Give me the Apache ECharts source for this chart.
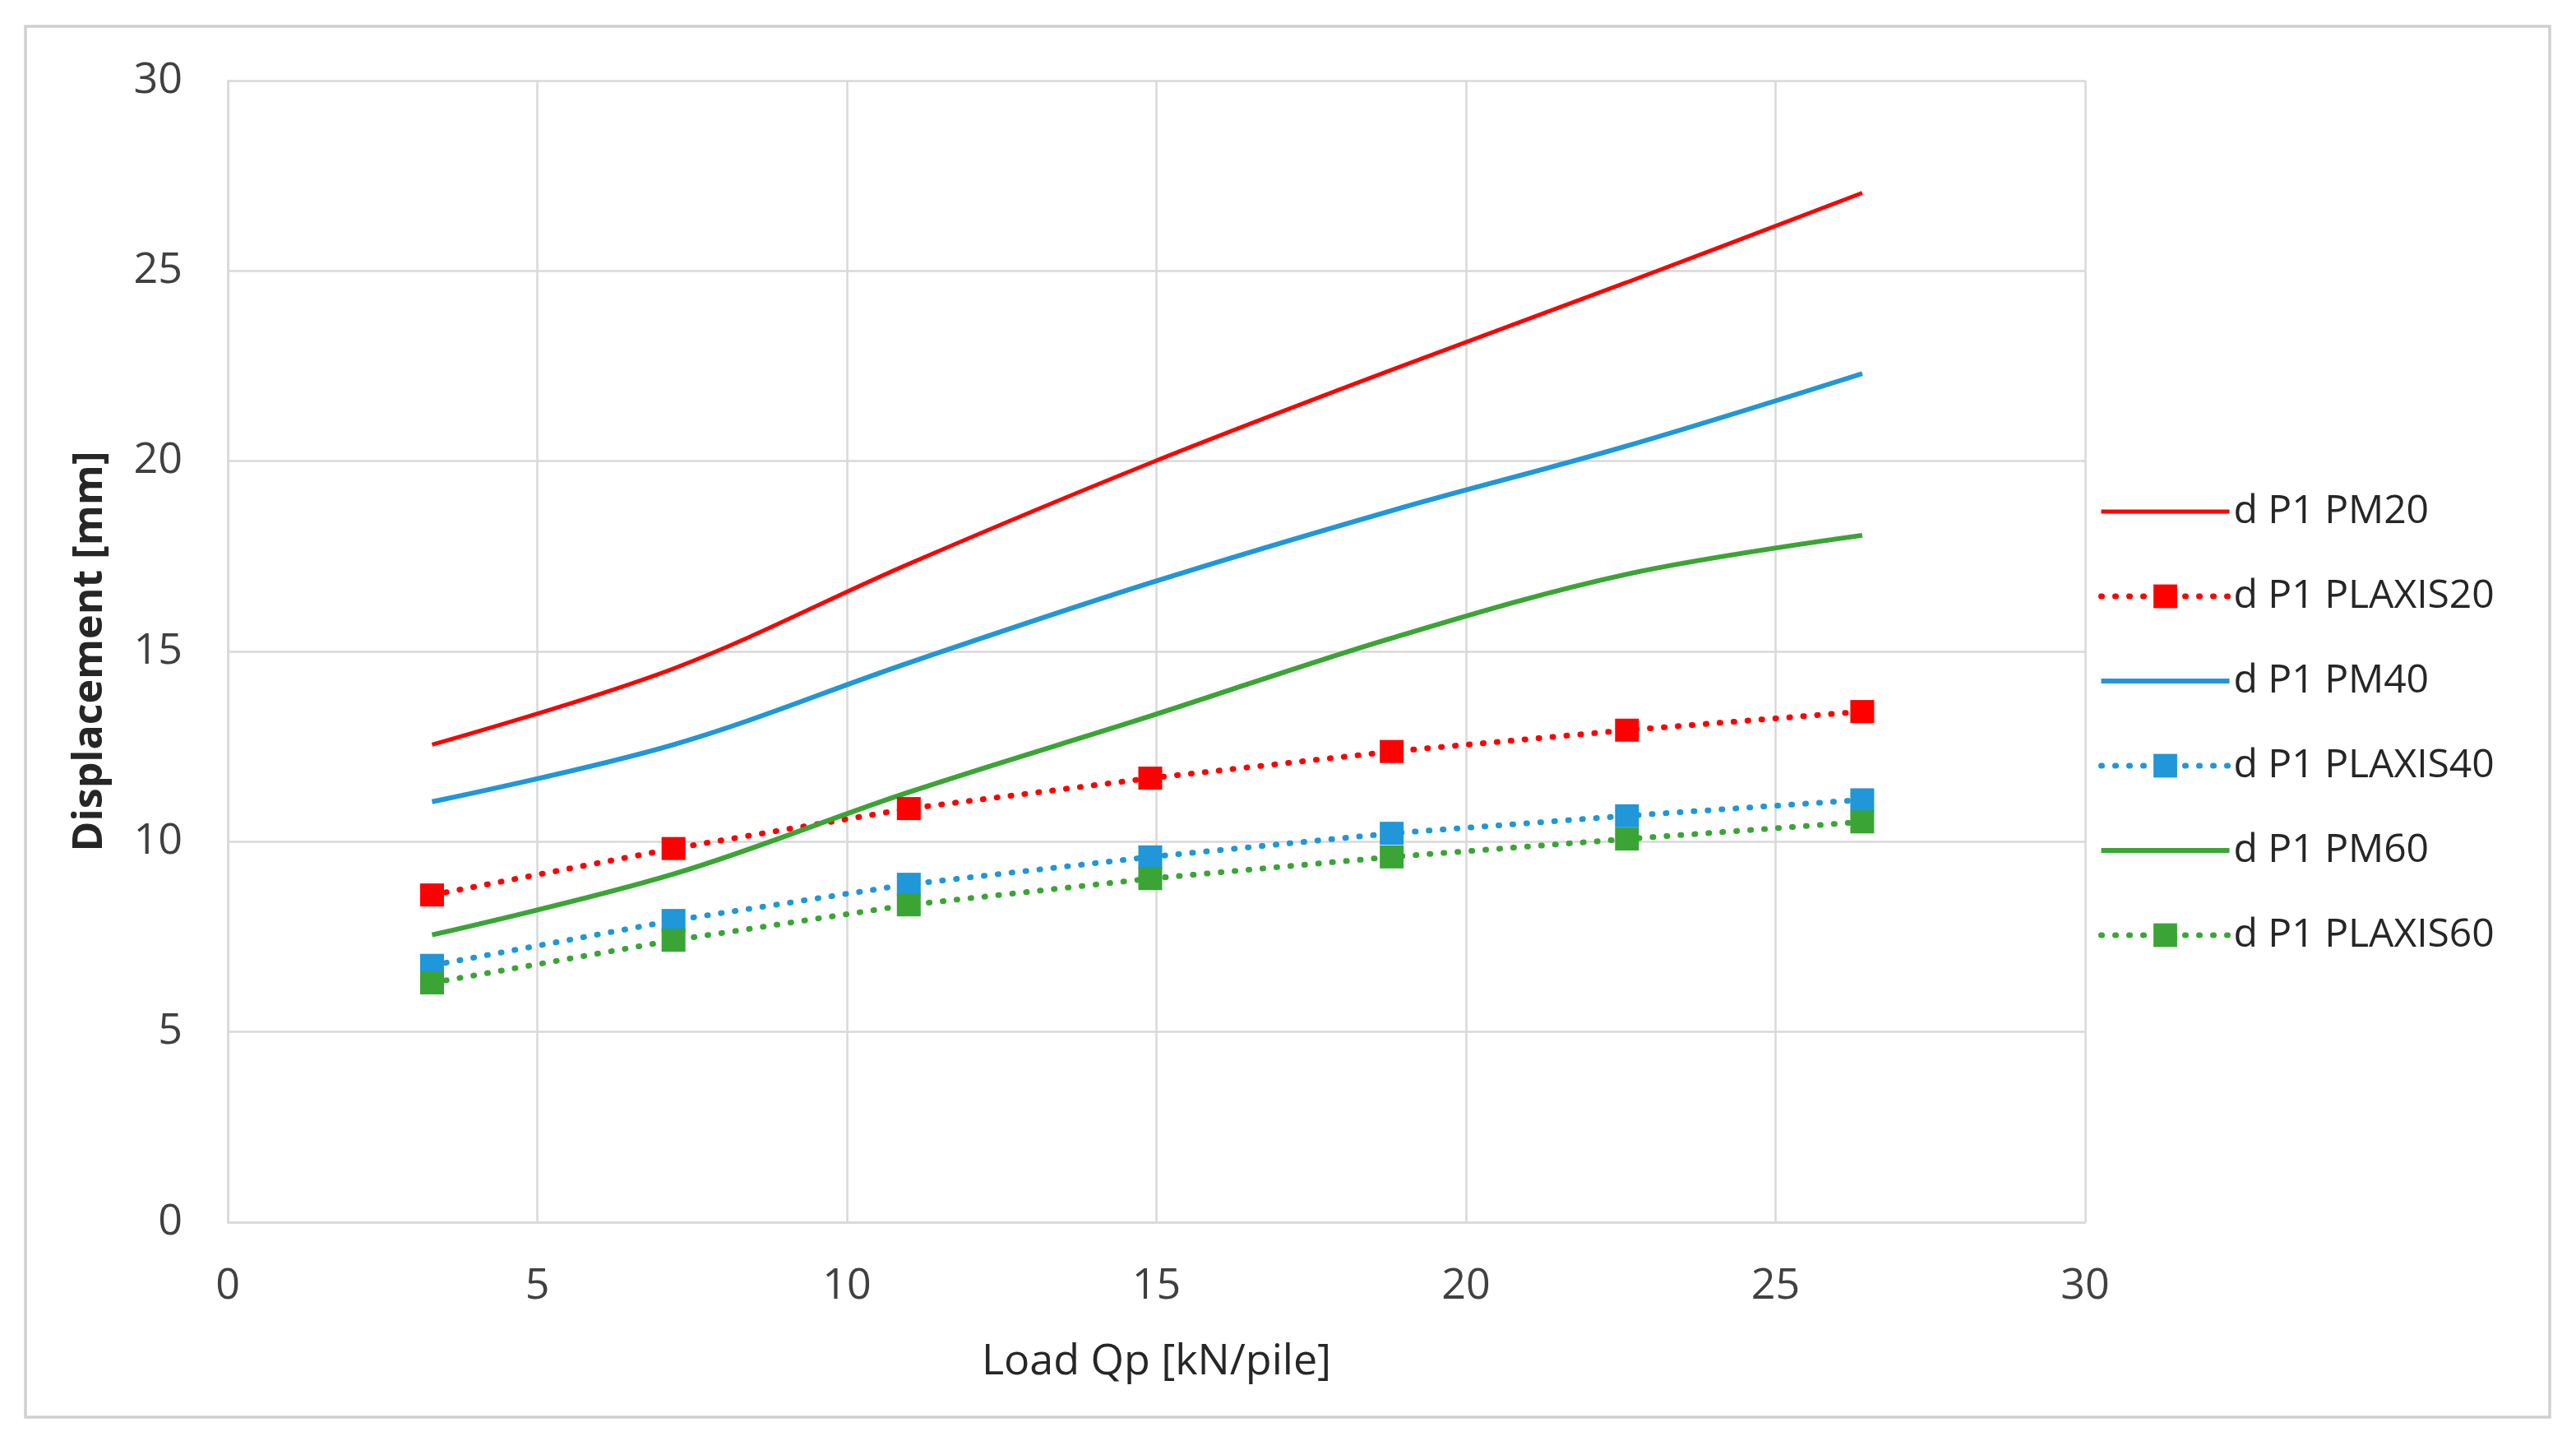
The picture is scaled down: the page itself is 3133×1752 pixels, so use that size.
<!DOCTYPE html>
<html>
<head>
<meta charset="utf-8">
<script src="https://cdn.jsdelivr.net/npm/echarts@6/dist/echarts.min.js"></script>
<style>
  html, body { margin: 0; padding: 0; background: #ffffff; }
  #chart { width: 3133px; height: 1752px; }
</style>
</head>
<body>
<div id="chart"></div>
<script>
// ---- data ----
const loadQp = [3.3, 7.2, 11.0, 14.9, 18.8, 22.6, 26.4];
const pm20 = [12.55, 14.55, 17.3, 19.95, 22.4, 24.7, 27.05];
const plaxis20 = [8.6, 9.82, 10.87, 11.67, 12.37, 12.93, 13.42];
const pm40 = [11.05, 12.55, 14.7, 16.8, 18.7, 20.4, 22.3];
const plaxis40 = [6.75, 7.93, 8.88, 9.6, 10.22, 10.68, 11.1];
const pm60 = [7.55, 9.15, 11.3, 13.3, 15.35, 17.03, 18.05];
const plaxis60 = [6.29, 7.41, 8.34, 9.03, 9.6, 10.07, 10.52];
const seriesNames = ['d P1 PM20', 'd P1 PLAXIS20', 'd P1 PM40', 'd P1 PLAXIS40', 'd P1 PM60', 'd P1 PLAXIS60'];
const xTicks = [0, 5, 10, 15, 20, 25, 30];
const yTicks = [0, 5, 10, 15, 20, 25, 30];

const RED = '#ff0000', BLUE = '#1f97d9', GREEN = '#3aa535';
const DOT = [1, 16];
const pairs = (ys) => loadQp.map((x, i) => [x, ys[i]]);

function solid(name, ys, color, w) {
  return {
    name, type: 'line', data: pairs(ys), smooth: 0.35,
    symbol: 'none', showSymbol: false,
    lineStyle: { color, width: w, type: 'solid' },
    itemStyle: { color },
    emphasis: { disabled: true }
  };
}
function dotted(name, ys, color) {
  return {
    name, type: 'line', data: pairs(ys), smooth: false,
    symbol: 'rect', symbolSize: [29, 28], showSymbol: true,
    lineStyle: { color, width: 7, type: DOT, cap: 'round' },
    itemStyle: { color, borderWidth: 0 },
    emphasis: { disabled: true }
  };
}
const legendColors = [RED, RED, BLUE, BLUE, GREEN, GREEN];
const legendData = seriesNames.map((n, i) => {
  const isPM = i % 2 === 0;
  return {
    name: n,
    itemStyle: isPM ? { opacity: 0 } : { color: legendColors[i] },
    lineStyle: isPM
      ? { color: legendColors[i], width: i === 0 ? 5 : 6, type: 'solid' }
      : { color: legendColors[i], width: 7, type: DOT, cap: 'round' }
  };
});

const chart = echarts.init(document.getElementById('chart'), null, { renderer: 'canvas' });
const gridColor = '#d9d9d9';
chart.setOption({
  animation: false,
  backgroundColor: '#ffffff',
  textStyle: { fontFamily: 'Open Sans' },
  grid: { left: 277, top: 98, width: 2259, height: 1388, containLabel: false },
  xAxis: {
    type: 'value', min: xTicks[0], max: xTicks[xTicks.length - 1], interval: 5,
    name: 'Load Qp [kN/pile]', nameLocation: 'middle', nameGap: 144,
    nameTextStyle: { fontSize: 52, color: '#262626', fontFamily: 'Open Sans' },
    axisLine: { show: true, lineStyle: { color: gridColor, width: 2.5 } },
    axisTick: { show: false },
    axisLabel: { fontSize: 52, color: '#404040', margin: 52, fontFamily: 'Open Sans' },
    splitLine: { show: true, lineStyle: { color: gridColor, width: 2.5 } }
  },
  yAxis: {
    type: 'value', min: yTicks[0], max: yTicks[yTicks.length - 1], interval: 5,
    name: 'Displacement [mm]', nameLocation: 'middle', nameGap: 142, nameRotate: 90,
    nameTextStyle: { fontSize: 50, color: '#262626', fontWeight: 'bold', fontFamily: 'Open Sans' },
    axisLine: { show: true, lineStyle: { color: gridColor, width: 2.5 } },
    axisTick: { show: false },
    axisLabel: { fontSize: 52, color: '#404040', margin: 55, fontFamily: 'Open Sans' },
    splitLine: { show: true, lineStyle: { color: gridColor, width: 2.5 } }
  },
  legend: {
    orient: 'vertical', left: 2547, top: 589,
    itemWidth: 156, itemHeight: 36, itemGap: 47,
    data: legendData,
    textStyle: { fontSize: 48, color: '#262626', lineHeight: 56, fontFamily: 'Open Sans', padding: [0, 0, 0, 0] },
    selectedMode: false
  },
  graphic: [{
    type: 'rect', silent: true, z: -1,
    shape: { x: 31, y: 32, width: 3070, height: 1691 },
    style: { fill: 'none', stroke: '#d0d0d0', lineWidth: 3.5 }
  }],
  series: [
    solid(seriesNames[0], pm20, RED, 5),
    dotted(seriesNames[1], plaxis20, RED),
    solid(seriesNames[2], pm40, BLUE, 6),
    dotted(seriesNames[3], plaxis40, BLUE),
    solid(seriesNames[4], pm60, GREEN, 6),
    dotted(seriesNames[5], plaxis60, GREEN)
  ]
});
</script>
</body>
</html>
